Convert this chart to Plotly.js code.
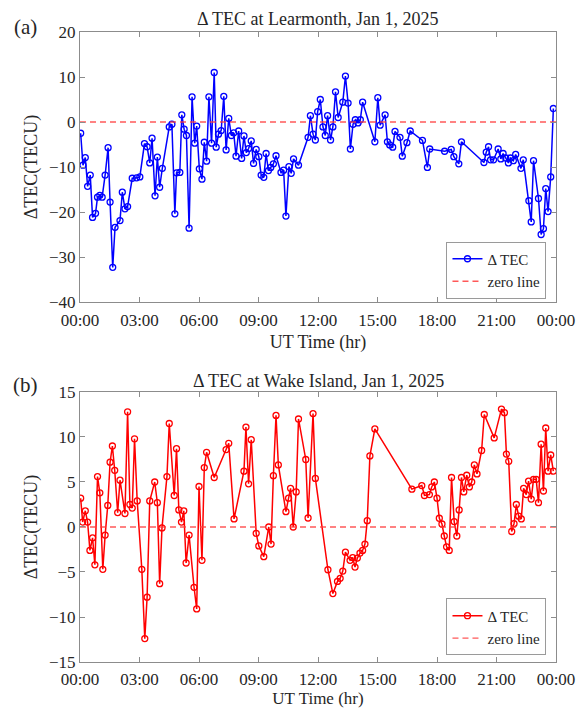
<!DOCTYPE html>
<html>
<head>
<meta charset="utf-8">
<script src="https://cdn.plot.ly/plotly-3.0.1.min.js"></script>
<style>html,body{margin:0;padding:0;background:#fff;}#chart{width:577px;height:708px;}</style>
</head>
<body>
<div id="chart"></div>
<script>
// (a) Learmonth
const TIME_A = ['00:02','00:09','00:16','00:23','00:31','00:38','00:47','00:53','01:00','01:07','01:16','01:25','01:31','01:39','01:46','02:01','02:08','02:16','02:24','02:38','02:51','03:01','03:15','03:23','03:31','03:38','03:47','03:54','04:01','04:09','04:30','04:38','04:47','04:52','05:02','05:08','05:15','05:22','05:30','05:39','05:47','05:53','06:01','06:09','06:16','06:23','06:30','06:38','06:46','06:52','06:59','07:07','07:15','07:22','07:30','07:38','07:45','07:52','08:00','08:09','08:16','08:23','08:30','08:38','08:45','08:53','09:01','09:08','09:16','09:23','09:30','09:37','09:45','09:53','10:08','10:16','10:23','10:32','10:39','10:46','11:01','11:30','11:37','11:45','11:52','11:59','12:07','12:15','12:22','12:29','12:38','12:45','12:53','13:01','13:15','13:23','13:31','13:38','13:46','13:53','14:01','14:08','14:15','14:52','15:01','15:08','15:23','15:30','15:37','15:46','15:53','16:08','16:15','16:29','16:39','17:16','17:31','17:38','18:23','18:43','18:51','19:06','19:14','20:22','20:29','20:36','20:42','20:51','21:05','21:13','21:20','21:28','21:36','21:42','21:51','21:58','22:14','22:21','22:38','22:45','22:52','23:07','23:15','23:22','23:29','23:36','23:44','23:52'];
const DTEC_A = [-2.5,-9.6,-7.9,-14.3,-11.8,-21.2,-20.3,-16.7,-16.3,-16.7,-11.8,-5.7,-17.8,-32.3,-23.4,-21.9,-15.6,-19.3,-18.8,-12.5,-12.4,-12.2,-4.8,-5.5,-9.1,-3.6,-16.4,-7.8,-14.5,-10.3,-1.1,-0.5,-20.4,-11.3,-11.2,1.6,-1.6,-3.0,-23.6,5.6,-4.7,-0.9,-10.4,-12.7,-4.5,-8.7,5.6,-4.7,11.0,-5.6,-2.7,-1.9,5.7,-6.2,0.8,-3.0,-2.4,-7.6,-2.0,-8.1,-3.1,-6.8,-5.9,-4.2,-9.2,-6.1,-7.7,-11.8,-12.3,-7.0,-10.8,-10.1,-9.3,-7.5,-11.2,-10.7,-20.9,-9.9,-11.4,-8.2,-9.6,-3.4,1.4,-2.7,-4.0,2.3,5.0,-1.1,-3.0,1.4,-4.0,-1.1,6.7,1.0,4.4,10.2,4.2,-6.0,-0.5,0.5,-0.2,0.5,4.4,-4.4,5.4,-0.7,1.6,-4.4,-5.1,-5.6,-2.1,-3.4,-7.6,-4.6,-2.0,-4.1,-10.1,-6.0,-6.5,-6.1,-7.7,-9.3,-4.4,-9.0,-6.7,-5.5,-8.4,-8.4,-6.0,-8.2,-7.0,-8.0,-9.1,-8.0,-8.6,-7.2,-10.3,-8.4,-17.5,-22.2,-8.6,-17.0,-25.0,-23.7,-14.8,-19.9,-12.2,3.0];

// (b) Wake Island
const TIME_B = ['00:02','00:08','00:16','00:23','00:30','00:38','00:45','00:53','01:00','01:09','01:16','01:24','01:31','01:38','01:45','01:54','02:01','02:16','02:24','02:31','02:38','02:45','02:53','03:07','03:16','03:23','03:31','03:46','03:54','04:01','04:08','04:23','04:30','04:45','04:52','04:59','05:07','05:14','05:21','05:30','05:45','05:53','06:00','06:09','06:16','06:23','06:46','07:22','07:30','07:46','08:16','08:22','08:30','08:38','08:53','09:01','09:16','09:31','09:38','09:45','09:53','10:00','10:23','10:31','10:37','10:45','10:54','11:01','11:23','11:30','11:45','11:52','12:30','12:45','12:59','13:07','13:15','13:23','13:37','13:45','13:52','13:59','14:07','14:15','14:22','14:29','14:37','14:52','16:44','17:14','17:22','17:37','17:44','17:52','18:00','18:07','18:15','18:22','18:29','18:37','18:44','18:52','19:00','19:07','19:14','19:21','19:30','19:38','19:45','19:53','20:01','20:15','20:23','20:53','21:15','21:24','21:30','21:37','21:46','21:53','22:00','22:07','22:15','22:22','22:30','22:37','22:45','22:52','23:00','23:07','23:15','23:22','23:29','23:36','23:44','23:52'];
const DTEC_B = [3.2,0.55,1.8,0.55,-2.6,-1.2,-4.2,5.6,3.8,-4.7,-0.9,2.4,7.2,9.0,6.3,1.6,5.2,1.5,12.8,2.5,2.1,9.8,2.9,-4.7,-12.4,-7.8,2.9,5.0,2.7,-6.3,-0.1,5.6,11.5,3.5,8.7,1.9,0.55,1.8,-4.0,-0.9,-6.7,-9.1,4.5,-3.7,6.6,8.3,5.5,8.6,9.3,0.9,6.2,11.1,4.8,9.7,-0.7,-2.1,-3.3,0.0,-1.9,5.7,12.4,6.9,1.7,3.2,4.3,0.0,3.9,12.0,7.5,1.0,12.6,5.4,-4.75,-7.4,-6.05,-5.7,-4.9,-2.8,-3.7,-3.4,-4.45,-3.45,-2.9,-2.6,-1.9,0.7,7.9,10.9,4.2,4.6,3.5,3.6,4.45,5.0,3.2,0.97,0.33,-1.0,-2.2,-2.6,5.5,0.6,-1.0,1.9,5.5,3.9,5.75,4.45,5.0,6.9,5.9,8.5,12.5,9.9,13.1,12.7,8.1,7.3,-0.5,0.37,2.5,1.2,0.9,4.3,3.6,5.1,3.1,5.3,5.3,2.7,9.2,4.0,11.0,6.2,8.0,6.2];

const DAY = '2025-01-01 ';
const DAY_START = '2025-01-01 00:00';
const DAY_END = '2025-01-02 00:00';
const X_TICK_STEP = 3 * 3600 * 1000;
const TITLE_A = 'Δ TEC at Learmonth, Jan 1, 2025';
const TITLE_B = 'Δ TEC at Wake Island, Jan 1, 2025';
const Y_TITLE = 'ΔTEC(TECU)';
const X_TITLE = 'UT Time (hr)';
const SERIES_NAME = 'Δ TEC';
const ZERO_NAME = 'zero line';

const FONT = 'Liberation Serif, Times New Roman, serif';
const TXT = '#262626';
const AX = '#8c8c8c';

const xA = TIME_A.map(t => DAY + t);
const xB = TIME_B.map(t => DAY + t);

const traces = [
  {x: xA, y: DTEC_A, type: 'scatter', mode: 'lines+markers', name: SERIES_NAME,
   xaxis: 'x', yaxis: 'y', legend: 'legend',
   line: {color: '#0000ff', width: 1.5},
   marker: {symbol: 'circle-open', size: 6, color: '#0000ff', line: {width: 1.3}}},
  {x: [DAY_START, DAY_END], y: [0, 0], type: 'scatter', mode: 'lines', name: ZERO_NAME,
   xaxis: 'x', yaxis: 'y', legend: 'legend',
   line: {color: 'rgba(255,60,60,0.85)', width: 1.3, dash: '6px,4px'}},
  {x: xB, y: DTEC_B, type: 'scatter', mode: 'lines+markers', name: SERIES_NAME,
   xaxis: 'x2', yaxis: 'y2', legend: 'legend2',
   line: {color: '#ff0000', width: 1.5},
   marker: {symbol: 'circle-open', size: 6, color: '#ff0000', line: {width: 1.3}}},
  {x: [DAY_START, DAY_END], y: [0, 0], type: 'scatter', mode: 'lines', name: ZERO_NAME,
   xaxis: 'x2', yaxis: 'y2', legend: 'legend2',
   line: {color: 'rgba(255,60,60,0.85)', width: 1.3, dash: '6px,4px'}}
];

function xaxisCfg(anchor, standoff, lblOff, titleSize) {
  return {
    type: 'date', range: [DAY_START, DAY_END], dtick: X_TICK_STEP, tick0: DAY_START,
    tickformat: '%H:%M', anchor: anchor,
    showgrid: false, zeroline: false, showline: true, mirror: 'ticks',
    linecolor: AX, linewidth: 1, ticks: 'inside', ticklen: 5, tickcolor: AX,
    ticklabelstandoff: lblOff,
    tickfont: {family: FONT, size: 17, color: TXT},
    title: {text: X_TITLE, font: {family: FONT, size: titleSize, color: TXT}, standoff: standoff},
    automargin: false, fixedrange: true
  };
}
function yaxisCfg(range, dtick, domain, anchor) {
  return {
    range: range, dtick: dtick, domain: domain, anchor: anchor,
    showgrid: false, zeroline: false, showline: true, mirror: 'ticks',
    linecolor: AX, linewidth: 1, ticks: 'inside', ticklen: 5, tickcolor: AX,
    tickfont: {family: FONT, size: 17, color: TXT},
    title: {text: Y_TITLE, font: {family: FONT, size: 18, color: TXT}, standoff: 6},
    automargin: false, fixedrange: true
  };
}

const legendCfg = (y) => ({
  x: 0.98, xanchor: 'right', y: y, yanchor: 'middle',
  bgcolor: '#ffffff', bordercolor: '#9a9a9a', borderwidth: 1,
  font: {family: FONT, size: 15, color: TXT},
  itemwidth: 30, tracegroupgap: 0
});

const layout = {
  width: 577, height: 708,
  margin: {l: 80, r: 20.5, t: 32, b: 46},
  paper_bgcolor: '#ffffff', plot_bgcolor: '#ffffff',
  showlegend: true,
  xaxis: xaxisCfg('y', 5, 3, 18),
  yaxis: yaxisCfg([-40, 20], 10, [0.5714, 1], 'x'),
  xaxis2: xaxisCfg('y2', 2, 2, 17),
  yaxis2: yaxisCfg([-15, 15], 5, [0, 0.4286], 'x2'),
  legend: legendCfg(0.6222),
  legend2: legendCfg(0.0556),
  annotations: [
    {text: TITLE_A, xref: 'paper', yref: 'paper', x: 0.5, y: 1.0206, xanchor: 'center', yanchor: 'middle', showarrow: false, font: {family: FONT, size: 18, color: TXT}},
    {text: TITLE_B, xref: 'paper', yref: 'paper', x: 0.5, y: 0.446, xanchor: 'center', yanchor: 'middle', showarrow: false, font: {family: FONT, size: 18, color: TXT}},
    {text: '(a)', xref: 'paper', yref: 'paper', x: -0.1154, y: 1.0079, xanchor: 'center', yanchor: 'middle', showarrow: false, font: {family: FONT, size: 21, color: TXT}},
    {text: '(b)', xref: 'paper', yref: 'paper', x: -0.1154, y: 0.4397, xanchor: 'center', yanchor: 'middle', showarrow: false, font: {family: FONT, size: 21, color: TXT}}
  ]
};

Plotly.newPlot('chart', traces, layout, {displayModeBar: false, staticPlot: true});
</script>
</body>
</html>
